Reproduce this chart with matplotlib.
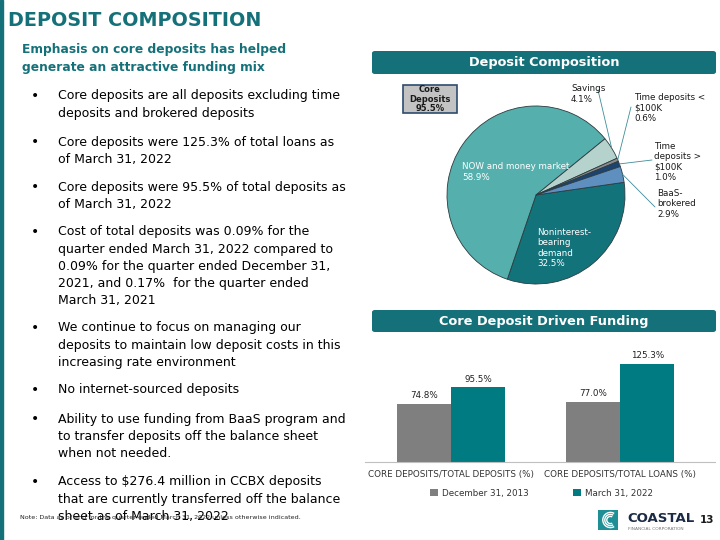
import numpy as np
import matplotlib
matplotlib.use("Agg")
import matplotlib.pyplot as plt
from matplotlib.patches import Rectangle, FancyBboxPatch, Arc

# pie data
pie_labels = ["Noninterest-\nbearing\ndemand", "NOW and money market", "Savings",
              "Time deposits <\n$100K", "Time\ndeposits >\n$100K", "BaaS-\nbrokered"]
pie_values = [32.5, 58.9, 4.1, 0.6, 1.0, 2.9]
pie_colors = ["#13737b", "#55b0ad", "#b5d3cc", "#8a8a8a", "#1d4470", "#5f8fbf"]

# bar data
bar_cats = ["CORE DEPOSITS/TOTAL DEPOSITS (%)", "CORE DEPOSITS/TOTAL LOANS (%)"]
bar_series = ["December 31, 2013", "March 31, 2022"]
bar_2013 = [74.8, 77.0]
bar_2022 = [95.5, 125.3]
bar_colors = ["#7f7f7f", "#007b82"]

bullets = [
    "Core deposits are all deposits excluding time\ndeposits and brokered deposits",
    "Core deposits were 125.3% of total loans as\nof March 31, 2022",
    "Core deposits were 95.5% of total deposits as\nof March 31, 2022",
    "Cost of total deposits was 0.09% for the\nquarter ended March 31, 2022 compared to\n"
    "0.09% for the quarter ended December 31,\n2021, and 0.17%  for the quarter ended\nMarch 31, 2021",
    "We continue to focus on managing our\ndeposits to maintain low deposit costs in this\nincreasing rate environment",
    "No internet-sourced deposits",
    "Ability to use funding from BaaS program and\nto transfer deposits off the balance sheet\nwhen not needed.",
    "Access to $276.4 million in CCBX deposits\nthat are currently transferred off the balance\nsheet as of March 31, 2022",
]
bullet_y = [96, 142, 187, 232, 328, 390, 419, 482]

TEAL = "#157179"
W, H = 720, 540

fig = plt.figure(figsize=(7.2, 5.4), dpi=100)
fig.patch.set_facecolor("white")


def fx(x):
    return x / W


def fy(y):
    return 1 - y / H


# left edge bar
fig.patches.append(Rectangle((0, 0), fx(3), 1, transform=fig.transFigure,
                             color=TEAL, zorder=0))

fig.text(fx(8), fy(20), "DEPOSIT COMPOSITION", fontsize=13.8, fontweight="bold",
         color=TEAL, va="center", ha="left")
fig.text(fx(22), fy(58), "Emphasis on core deposits has helped\ngenerate an attractive funding mix",
         fontsize=8.8, fontweight="bold", color=TEAL, va="center", ha="left",
         linespacing=1.5)

for txt, y in zip(bullets, bullet_y):
    fig.text(fx(31), fy(y), "\u2022", fontsize=10, va="center", ha="left", color="black")
    fig.text(fx(58), fy(y - 6.5), txt, fontsize=9, va="top", ha="left",
             color="black", linespacing=1.42)

# header boxes
for y0, y1, title in [(51, 74, "Deposit Composition"), (310, 332, "Core Deposit Driven Funding")]:
    box = FancyBboxPatch((fx(372), fy(y1)), fx(716) - fx(372), fy(y0) - fy(y1),
                         boxstyle="round,pad=0,rounding_size=0.004",
                         transform=fig.transFigure, facecolor=TEAL, edgecolor="none")
    fig.patches.append(box)
    fig.text(fx(544), fy((y0 + y1) / 2), title, fontsize=9.3, fontweight="bold",
             color="white", ha="center", va="center")

# pie chart
cx, cy, r = 536, 195, 89
axp = fig.add_axes([fx(cx - r), fy(cy + r), (2 * r) / W, (2 * r) / H])
wedges, _ = axp.pie(pie_values, colors=pie_colors, startangle=8.2, counterclock=False,
                    wedgeprops=dict(edgecolor="#2b3b3f", linewidth=0.6))
axp.set_xlim(-1, 1)
axp.set_ylim(-1, 1)
axp.set_aspect("equal")
axp.axis("off")

# inside labels
fig.text(fx(462), fy(172), "NOW and money market\n58.9%", fontsize=6.3, color="white",
         ha="left", va="center", linespacing=1.15)
fig.text(fx(537), fy(248), "Noninterest-\nbearing\ndemand\n32.5%", fontsize=6.3,
         color="white", ha="left", va="center", linespacing=1.15)

# outside labels with leader lines
outside = [
    (2, 571, 94, 598, 90),
    (3, 634, 108, 631, 107),
    (4, 654, 162, 652, 160),
    (5, 657, 204, 655, 207),
]
for idx, tx, ty, lx, ly in outside:
    w = wedges[idx]
    ang = np.deg2rad((w.theta1 + w.theta2) / 2)
    axp.annotate("", xy=(np.cos(ang) * 1.0, np.sin(ang) * 1.0), xycoords="data",
                 xytext=(lx, H - ly), textcoords="figure pixels",
                 arrowprops=dict(arrowstyle="-", color="#3f8c98", lw=0.6,
                                 shrinkA=0, shrinkB=0))
    fig.text(fx(tx), fy(ty), "%s\n%.1f%%" % (pie_labels[idx], pie_values[idx]),
             fontsize=6.3, color="#1a1a1a", ha="left", va="center", linespacing=1.15)

# core deposits box
fig.patches.append(Rectangle((fx(403), fy(113)), fx(457) - fx(403), fy(85) - fy(113),
                             transform=fig.transFigure, facecolor="#c3c3c3",
                             edgecolor="#2e4c6e", linewidth=1.2))
fig.text(fx(430), fy(99), "Core\nDeposits\n95.5%", fontsize=6, fontweight="bold",
         color="#1a1a1a", ha="center", va="center", linespacing=1.05)

# bar chart
axb = fig.add_axes([fx(365), fy(462), (715 - 365) / W, 110 / H])
x = np.arange(len(bar_cats))
bw = 0.32
b1 = axb.bar(x - bw / 2, bar_2013, bw, color=bar_colors[0], label=bar_series[0])
b2 = axb.bar(x + bw / 2, bar_2022, bw, color=bar_colors[1], label=bar_series[1])
for bars in (b1, b2):
    for b in bars:
        axb.text(b.get_x() + b.get_width() / 2, b.get_height() + 5,
                 "%.1f%%" % b.get_height(), ha="center", va="bottom",
                 fontsize=6.3, color="#222222")
axb.set_xlim(-0.51, 1.56)
axb.set_ylim(0, 141)
for s in ("top", "right", "left"):
    axb.spines[s].set_visible(False)
axb.spines["bottom"].set_color("#bfbfbf")
axb.set_yticks([])
axb.set_xticks(x)
axb.set_xticklabels(bar_cats, fontsize=6.3, color="#333333")
axb.tick_params(axis="x", length=0, pad=6)
axb.legend(loc="upper center", bbox_to_anchor=(0.505, -0.17), ncol=2, frameon=False,
           fontsize=6.3, handlelength=0.9, handleheight=0.9, columnspacing=5.0,
           handletextpad=0.5, labelcolor="#333333")

# footer
fig.text(fx(20), fy(518), "Note: Data as of and for the quarter ended March 31, 2022 unless otherwise indicated.",
         fontsize=4.6, color="#222222", ha="left", va="center")

# logo
logo = fig.add_axes([fx(598), fy(530), 20 / W, 20 / H])
logo.add_patch(Rectangle((0, 0), 1, 1, color="#1e8f95"))
for rr in (0.38, 0.28, 0.18):
    logo.add_patch(Arc((0.62, 0.5), 2 * rr, 2 * rr, theta1=60, theta2=300,
                       color="white", lw=1.0))
logo.set_xlim(0, 1)
logo.set_ylim(0, 1)
logo.axis("off")
fig.text(fx(627), fy(518), "COASTAL", fontsize=9.5, fontweight="bold",
         color="#1c2b45", ha="left", va="center")
fig.text(fx(628), fy(529), "FINANCIAL CORPORATION", fontsize=3.2, color="#777777",
         ha="left", va="center")
fig.text(fx(700), fy(520), "13", fontsize=7.5, fontweight="bold", color="#1a1a1a",
         ha="left", va="center")

fig.savefig("out.png", dpi=100)
